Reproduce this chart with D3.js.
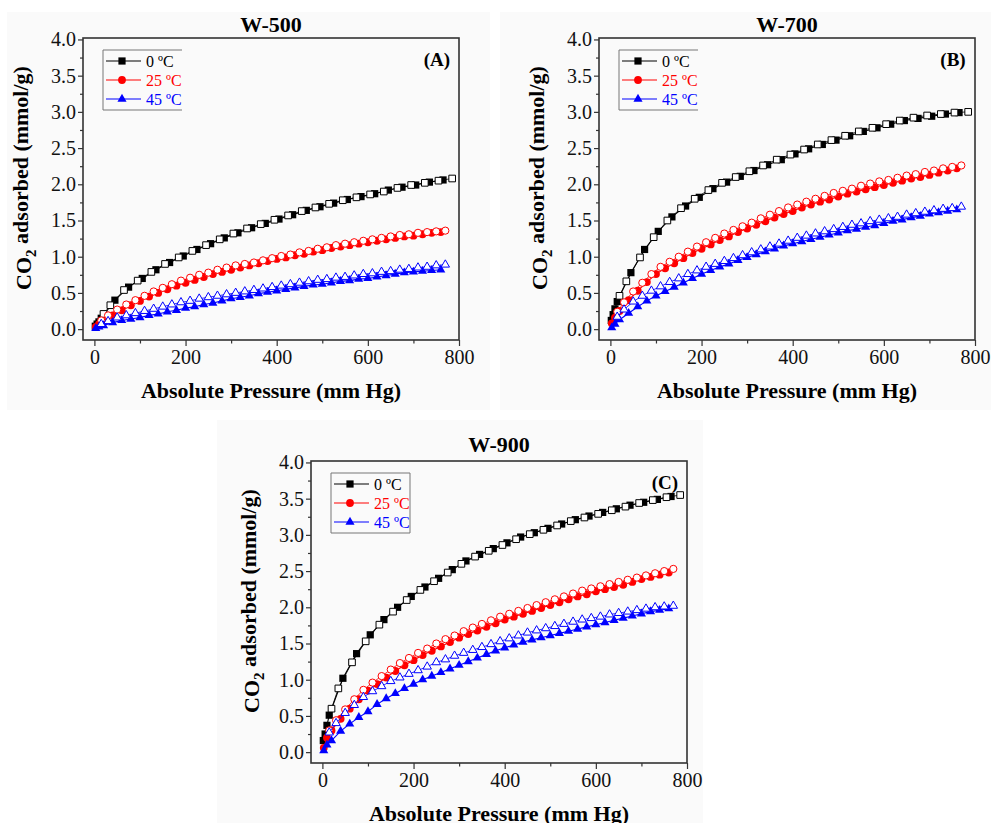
<!DOCTYPE html>
<html lang="en">
<head>
<meta charset="UTF-8">
<title>CO2 adsorption isotherms W-500 / W-700 / W-900</title>
<script src="https://d3js.org/d3.v7.min.js"></script>
<style>
  body { margin: 0; background: #fff; }
  svg text { font-family: "Liberation Serif", "Times New Roman", serif; }
</style>
</head>
<body>
<svg width="991" height="823"></svg>
<script>
// pressure points, mm Hg
const pBlackAds = [2, 6, 10, 15, 45, 75, 105, 135, 165, 195, 225, 255, 285, 315, 345, 375, 405, 435, 465, 495, 525, 555, 585, 615, 645, 675, 705, 735, 765];
const pBlackDes = [20, 35, 65, 95, 125, 155, 185, 215, 245, 275, 305, 335, 365, 395, 425, 455, 485, 515, 545, 575, 605, 635, 665, 695, 725, 755, 785];
const pAds = [3, 10, 20, 40, 60, 80, 100, 120, 140, 160, 180, 200, 220, 240, 260, 280, 300, 320, 340, 360, 380, 400, 420, 440, 460, 480, 500, 520, 540, 560, 580, 600, 620, 640, 660, 680, 700, 720, 740, 760];
const pDes = [15, 30, 50, 70, 90, 110, 130, 150, 170, 190, 210, 230, 250, 270, 290, 310, 330, 350, 370, 390, 410, 430, 450, 470, 490, 510, 530, 550, 570, 590, 610, 630, 650, 670, 690, 710, 730, 750, 770];

const xTicks = [0, 200, 400, 600, 800];
const xMinor = [100, 300, 500, 700];
const yTicks = [0, 0.5, 1, 1.5, 2, 2.5, 3, 3.5, 4];
const yMinor = [0.25, 0.75, 1.25, 1.75, 2.25, 2.75, 3.25, 3.75];

const temps = ["0 ºC", "25 ºC", "45 ºC"];

// W-500 (mmol/g)
const a500_0 = [0.04, 0.07, 0.10, 0.15, 0.40, 0.58, 0.70, 0.82, 0.92, 1.01, 1.10, 1.18, 1.26, 1.33, 1.40, 1.46, 1.52, 1.58, 1.64, 1.69, 1.74, 1.79, 1.83, 1.87, 1.92, 1.96, 1.99, 2.03, 2.06];
const d500_0 = [0.21, 0.33, 0.54, 0.67, 0.79, 0.90, 0.99, 1.08, 1.16, 1.24, 1.32, 1.39, 1.45, 1.51, 1.57, 1.63, 1.68, 1.73, 1.78, 1.82, 1.86, 1.90, 1.95, 1.99, 2.02, 2.05, 2.08];
const a500_25 = [0.03, 0.07, 0.11, 0.19, 0.26, 0.33, 0.39, 0.45, 0.50, 0.55, 0.60, 0.64, 0.68, 0.72, 0.76, 0.79, 0.82, 0.85, 0.88, 0.91, 0.94, 0.97, 0.99, 1.02, 1.04, 1.07, 1.09, 1.12, 1.14, 1.16, 1.18, 1.20, 1.22, 1.24, 1.26, 1.28, 1.29, 1.31, 1.33, 1.34];
const d500_25 = [0.12, 0.19, 0.27, 0.34, 0.40, 0.46, 0.52, 0.57, 0.62, 0.67, 0.71, 0.75, 0.78, 0.82, 0.85, 0.88, 0.90, 0.92, 0.95, 0.98, 1.01, 1.03, 1.06, 1.08, 1.11, 1.13, 1.16, 1.18, 1.20, 1.22, 1.24, 1.26, 1.28, 1.30, 1.31, 1.33, 1.34, 1.35, 1.36];
const a500_45 = [0.01, 0.03, 0.05, 0.09, 0.12, 0.14, 0.16, 0.19, 0.21, 0.24, 0.26, 0.29, 0.31, 0.34, 0.36, 0.39, 0.42, 0.44, 0.46, 0.49, 0.51, 0.53, 0.55, 0.57, 0.59, 0.61, 0.62, 0.64, 0.66, 0.67, 0.69, 0.70, 0.72, 0.74, 0.76, 0.78, 0.79, 0.80, 0.81, 0.82];
const d500_45 = [0.07, 0.11, 0.16, 0.19, 0.22, 0.25, 0.28, 0.31, 0.34, 0.37, 0.39, 0.42, 0.44, 0.46, 0.48, 0.50, 0.52, 0.54, 0.56, 0.58, 0.60, 0.62, 0.64, 0.66, 0.68, 0.69, 0.71, 0.72, 0.74, 0.76, 0.77, 0.79, 0.80, 0.82, 0.83, 0.85, 0.86, 0.88, 0.89];

// W-700
const a700_0 = [0.12, 0.20, 0.28, 0.38, 0.78, 1.10, 1.35, 1.55, 1.70, 1.82, 1.94, 2.03, 2.11, 2.19, 2.27, 2.34, 2.42, 2.49, 2.55, 2.61, 2.67, 2.73, 2.78, 2.83, 2.88, 2.91, 2.94, 2.97, 2.99];
const d700_0 = [0.46, 0.66, 0.99, 1.27, 1.50, 1.67, 1.80, 1.92, 2.02, 2.10, 2.18, 2.26, 2.34, 2.41, 2.48, 2.55, 2.61, 2.67, 2.73, 2.78, 2.83, 2.88, 2.92, 2.95, 2.97, 2.99, 3.00];
const a700_25 = [0.08, 0.16, 0.25, 0.40, 0.53, 0.65, 0.76, 0.84, 0.91, 0.98, 1.05, 1.11, 1.17, 1.23, 1.28, 1.34, 1.39, 1.44, 1.49, 1.54, 1.59, 1.63, 1.68, 1.72, 1.76, 1.79, 1.83, 1.87, 1.90, 1.93, 1.96, 1.99, 2.02, 2.05, 2.08, 2.10, 2.13, 2.16, 2.19, 2.22];
const d700_25 = [0.24, 0.37, 0.52, 0.64, 0.76, 0.86, 0.93, 1.00, 1.07, 1.14, 1.20, 1.26, 1.32, 1.37, 1.42, 1.47, 1.53, 1.58, 1.63, 1.68, 1.72, 1.76, 1.80, 1.84, 1.88, 1.91, 1.94, 1.98, 2.01, 2.04, 2.06, 2.09, 2.12, 2.14, 2.17, 2.19, 2.22, 2.24, 2.26];
const a700_45 = [0.02, 0.07, 0.13, 0.22, 0.31, 0.39, 0.46, 0.52, 0.58, 0.64, 0.70, 0.76, 0.81, 0.86, 0.90, 0.95, 0.99, 1.03, 1.07, 1.11, 1.15, 1.18, 1.21, 1.24, 1.27, 1.30, 1.33, 1.36, 1.38, 1.41, 1.43, 1.46, 1.49, 1.51, 1.54, 1.56, 1.59, 1.61, 1.63, 1.65];
const d700_45 = [0.17, 0.27, 0.38, 0.46, 0.53, 0.59, 0.65, 0.70, 0.76, 0.81, 0.86, 0.90, 0.94, 0.98, 1.02, 1.06, 1.10, 1.14, 1.18, 1.22, 1.26, 1.29, 1.32, 1.35, 1.38, 1.41, 1.44, 1.46, 1.49, 1.51, 1.53, 1.55, 1.58, 1.60, 1.62, 1.64, 1.66, 1.67, 1.69];

// W-900
const a900_0 = [0.16, 0.25, 0.37, 0.51, 1.02, 1.36, 1.62, 1.83, 2.00, 2.15, 2.28, 2.40, 2.52, 2.64, 2.73, 2.81, 2.89, 2.97, 3.03, 3.09, 3.15, 3.21, 3.26, 3.31, 3.36, 3.41, 3.45, 3.49, 3.53];
const d900_0 = [0.60, 0.88, 1.24, 1.53, 1.76, 1.94, 2.10, 2.24, 2.36, 2.48, 2.60, 2.70, 2.78, 2.86, 2.94, 3.01, 3.07, 3.13, 3.19, 3.24, 3.29, 3.34, 3.39, 3.44, 3.48, 3.52, 3.55];
const a900_25 = [0.06, 0.20, 0.30, 0.46, 0.60, 0.73, 0.85, 0.94, 1.03, 1.12, 1.20, 1.27, 1.34, 1.40, 1.46, 1.52, 1.58, 1.63, 1.68, 1.73, 1.78, 1.83, 1.87, 1.91, 1.95, 1.99, 2.03, 2.07, 2.11, 2.15, 2.18, 2.22, 2.25, 2.28, 2.31, 2.35, 2.39, 2.42, 2.45, 2.48];
const d900_25 = [0.30, 0.44, 0.59, 0.73, 0.86, 0.96, 1.05, 1.14, 1.23, 1.30, 1.37, 1.43, 1.50, 1.56, 1.61, 1.67, 1.72, 1.77, 1.82, 1.87, 1.91, 1.95, 1.99, 2.03, 2.07, 2.11, 2.15, 2.19, 2.23, 2.26, 2.29, 2.32, 2.35, 2.38, 2.41, 2.44, 2.47, 2.50, 2.53];
const a900_45 = [0.02, 0.10, 0.16, 0.29, 0.39, 0.48, 0.56, 0.66, 0.74, 0.81, 0.88, 0.94, 1.00, 1.05, 1.10, 1.15, 1.20, 1.25, 1.30, 1.35, 1.40, 1.44, 1.48, 1.52, 1.55, 1.58, 1.61, 1.64, 1.67, 1.70, 1.73, 1.76, 1.79, 1.82, 1.85, 1.88, 1.91, 1.94, 1.96, 1.98];
const d900_45 = [0.27, 0.40, 0.54, 0.65, 0.76, 0.84, 0.91, 0.98, 1.03, 1.08, 1.13, 1.18, 1.24, 1.28, 1.33, 1.37, 1.41, 1.45, 1.49, 1.53, 1.57, 1.61, 1.65, 1.68, 1.71, 1.74, 1.77, 1.80, 1.83, 1.85, 1.87, 1.90, 1.92, 1.94, 1.96, 1.98, 2.00, 2.01, 2.02];

const colors = ["#000000", "#ff0000", "#0000ff"];
const shapes = [d3.symbolSquare, d3.symbolCircle, d3.symbolTriangle];
const symSize = [52, 48, 36];

const panels = [
  { title: "W-500", tag: "(A)", left: 83, top: 38, titleY: -6, bg: [7, 12, 483, 398], boxRight: false,
    sets: [[a500_0, d500_0], [a500_25, d500_25], [a500_45, d500_45]] },
  { title: "W-700", tag: "(B)", left: 599, top: 38, titleY: -6, bg: [500, 12, 491, 398], boxRight: false,
    sets: [[a700_0, d700_0], [a700_25, d700_25], [a700_45, d700_45]] },
  { title: "W-900", tag: "(C)", left: 311, top: 461, titleY: -9, bg: [217, 420, 486, 403], boxRight: true,
    sets: [[a900_0, d900_0], [a900_25, d900_25], [a900_45, d900_45]] }
];

const W = 376, H = 302;
const svg = d3.select("svg");
svg.append("rect").attr("width", 991).attr("height", 823).attr("fill", "#fff");

panels.forEach(p => {
  svg.append("rect")
    .attr("x", p.bg[0]).attr("y", p.bg[1]).attr("width", p.bg[2]).attr("height", p.bg[3])
    .attr("fill", "#fafafa");

  const g = svg.append("g").attr("transform", `translate(${p.left},${p.top})`);
  const x = d3.scaleLinear().domain([-25, 800]).range([0, W]);
  const y = d3.scaleLinear().domain([-0.15, 4.02]).range([H, 0]);

  // axes, major and minor ticks outward on bottom and left
  g.append("g").attr("transform", `translate(0,${H})`)
    .call(d3.axisBottom(x).tickValues(xTicks).tickSize(6).tickSizeOuter(0).tickPadding(4));
  g.append("g").attr("transform", `translate(0,${H})`)
    .call(d3.axisBottom(x).tickValues(xMinor).tickSize(3.5).tickSizeOuter(0).tickFormat(""));
  g.append("g")
    .call(d3.axisLeft(y).tickValues(yTicks).tickSize(5).tickSizeOuter(0).tickPadding(2).tickFormat(d3.format(".1f")));
  g.append("g")
    .call(d3.axisLeft(y).tickValues(yMinor).tickSize(3).tickSizeOuter(0).tickFormat(""));
  g.selectAll(".domain").remove();
  g.selectAll(".tick line").attr("stroke", "#333").attr("stroke-width", 1.2);
  g.selectAll(".tick text").attr("font-size", 20).attr("fill", "#111")
    .attr("font-family", "Liberation Serif, Times New Roman, serif");

  // adsorption (filled) then desorption (open) for each temperature
  p.sets.forEach((s, i) => {
    const ads = (i === 0 ? pBlackAds : pAds).map((px, k) => [px, s[0][k]]);
    const des = (i === 0 ? pBlackDes : pDes).map((px, k) => [px, s[1][k]]);
    const line = d3.line().x(d => x(d[0])).y(d => y(d[1]));
    const sym = d3.symbol().type(shapes[i]).size(symSize[i]);
    const symOpen = d3.symbol().type(shapes[i]).size(symSize[i] * 0.85);

    g.append("path").datum(ads).attr("d", line)
      .attr("fill", "none").attr("stroke", colors[i]).attr("stroke-width", 1.1);
    g.selectAll(null).data(ads).enter().append("path")
      .attr("d", sym).attr("transform", d => `translate(${x(d[0])},${y(d[1])})`)
      .attr("fill", colors[i]);
    g.append("path").datum(des).attr("d", line)
      .attr("fill", "none").attr("stroke", colors[i]).attr("stroke-width", 0.8);
    g.selectAll(null).data(des).enter().append("path")
      .attr("d", symOpen).attr("transform", d => `translate(${x(d[0])},${y(d[1])})`)
      .attr("fill", "#fff").attr("stroke", colors[i]).attr("stroke-width", 1);
  });

  // frame
  g.append("rect").attr("width", W).attr("height", H)
    .attr("fill", "none").attr("stroke", "#333").attr("stroke-width", 1.6);

  // legend
  const lx = 20, ly = 12, lw = 79, lh = 60;
  const lg = g.append("g").attr("transform", `translate(${lx},${ly})`);
  const bp = p.boxRight ? `M${lw},0H0V${lh}H${lw}V0` : `M${lw},0H0V${lh}H${lw}`;
  lg.append("path").attr("d", bp).attr("fill", "none").attr("stroke", "#777").attr("stroke-width", 1);
  temps.forEach((t, i) => {
    const ry = 11 + i * 19;
    lg.append("line").attr("x1", 3).attr("x2", 38).attr("y1", ry).attr("y2", ry)
      .attr("stroke", colors[i]).attr("stroke-width", 1);
    lg.append("path").attr("d", d3.symbol().type(shapes[i]).size(symSize[i])())
      .attr("transform", `translate(19,${ry})`).attr("fill", colors[i]);
    lg.append("text").attr("x", 43).attr("y", ry).attr("dy", "0.35em")
      .attr("font-size", 16).attr("fill", colors[i]).text(t);
  });

  // panel tag
  g.append("text").attr("x", W - 22).attr("y", 28).attr("text-anchor", "middle")
    .attr("font-size", 19).attr("font-weight", "bold").text(p.tag);

  // title
  g.append("text").attr("x", W / 2).attr("y", p.titleY).attr("text-anchor", "middle")
    .attr("font-size", 22).attr("font-weight", "bold").text(p.title);

  // axis titles
  g.append("text").attr("x", W / 2).attr("y", H + 58).attr("text-anchor", "middle")
    .attr("font-size", 22).attr("font-weight", "bold").text("Absolute Pressure (mm Hg)");
  const yt = g.append("text")
    .attr("transform", `translate(-60,${H / 2 - 11}) rotate(-90)`)
    .attr("text-anchor", "middle").attr("dy", "0.35em")
    .attr("font-size", 22).attr("font-weight", "bold");
  yt.append("tspan").text("CO");
  yt.append("tspan").attr("font-size", 15).attr("dy", "0.35em").text("2");
  yt.append("tspan").attr("dy", "-0.35em").text(" adsorbed (mmol/g)");
});
</script>
</body>
</html>
